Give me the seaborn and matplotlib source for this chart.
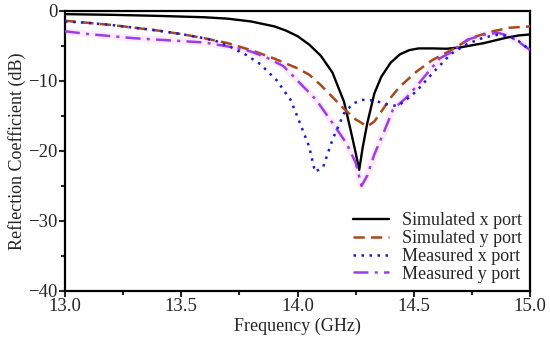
import matplotlib
matplotlib.use("Agg")
import matplotlib.pyplot as plt
import seaborn as sns
from matplotlib.ticker import MultipleLocator

# Simulated x port
sim_x_f = [13.0, 13.2, 13.4, 13.6, 13.7, 13.8, 13.9, 13.95, 14.0, 14.05, 14.1, 14.15,
           14.2, 14.23, 14.25, 14.265, 14.28, 14.3, 14.33, 14.36, 14.4, 14.44, 14.48,
           14.52, 14.58, 14.64, 14.7, 14.75, 14.8, 14.85, 14.9, 14.95, 15.0]
sim_x_db = [-0.45, -0.55, -0.7, -0.9, -1.1, -1.5, -2.2, -2.8, -3.6, -4.8, -6.4, -8.8,
            -13.0, -17.3, -20.3, -22.7, -19.5, -16.0, -11.8, -9.4, -7.4, -6.2, -5.6,
            -5.35, -5.35, -5.4, -5.2, -4.9, -4.6, -4.2, -3.8, -3.5, -3.35]

# Simulated y port
sim_y_f = [13.0, 13.1, 13.2, 13.3, 13.4, 13.5, 13.6, 13.7, 13.8, 13.9, 14.0, 14.05,
           14.1, 14.15, 14.2, 14.25, 14.3, 14.33, 14.37, 14.4, 14.44, 14.51, 14.58,
           14.66, 14.75, 14.84, 14.91, 15.0]
sim_y_db = [-1.4, -1.7, -2.0, -2.4, -2.8, -3.3, -3.9, -4.6, -5.6, -6.8, -8.2, -9.1,
            -10.6, -12.3, -14.0, -15.5, -16.5, -15.8, -13.9, -12.4, -10.8, -8.7, -7.0,
            -5.6, -3.8, -2.9, -2.4, -2.2]

# Measured x port
meas_x_f = [13.0, 13.1, 13.2, 13.3, 13.4, 13.5, 13.6, 13.65, 13.71, 13.78, 13.84,
            13.91, 13.97, 14.01, 14.05, 14.075, 14.11, 14.15, 14.2, 14.24, 14.28,
            14.33, 14.38, 14.43, 14.47, 14.51, 14.58, 14.66, 14.73, 14.8, 14.86,
            14.91, 14.95, 15.0]
meas_x_db = [-1.5, -1.7, -2.0, -2.4, -2.8, -3.3, -3.9, -4.3, -5.1, -6.3, -7.6,
             -9.9, -12.7, -16.0, -19.4, -23.0, -22.3, -18.4, -14.6, -13.2, -12.7,
             -12.8, -13.3, -13.6, -12.6, -11.5, -8.9, -6.1, -4.7, -3.8, -3.4,
             -3.6, -4.3, -5.6]

# Measured y port
meas_y_f = [13.0, 13.1, 13.2, 13.3, 13.4, 13.5, 13.6, 13.67, 13.74, 13.8, 13.87,
            13.94, 14.01, 14.08, 14.15, 14.21, 14.25, 14.275, 14.3, 14.33, 14.37,
            14.41, 14.47, 14.51, 14.58, 14.61, 14.66, 14.73, 14.8, 14.86, 14.91,
            14.95, 15.0]
meas_y_db = [-2.9, -3.3, -3.6, -3.9, -4.1, -4.3, -4.5, -4.9, -5.3, -5.8, -6.7,
             -7.9, -10.3, -12.7, -16.0, -18.9, -21.7, -25.0, -23.5, -20.5, -17.4,
             -14.1, -12.3, -10.8, -8.0, -6.8, -5.9, -4.1, -3.4, -3.1, -3.6,
             -4.4, -5.6]

sns.set_style("ticks")
plt.rcParams["font.family"] = ["Liberation Serif", "DejaVu Serif"]
plt.rcParams["font.size"] = 12

fig = plt.figure(figsize=(5.5, 3.43), dpi=100)
ax = fig.add_axes([0.118, 0.152, 0.846, 0.816])

# faint halo under the measured y trace, as in the reference
sns.lineplot(x=meas_y_f, y=meas_y_db, ax=ax, color="#fcecf9", lw=5, zorder=1)
sns.lineplot(x=sim_x_f, y=sim_x_db, ax=ax, color="black", lw=1.7,
             label="Simulated x port", zorder=3)
sns.lineplot(x=sim_y_f, y=sim_y_db, ax=ax, color="#a8481c", lw=1.8,
             linestyle=(0, (4.5, 2.5)), label="Simulated y port", zorder=3)
sns.lineplot(x=meas_x_f, y=meas_x_db, ax=ax, color="#1a1ad6", lw=1.8,
             linestyle=(0, (1, 2.2)), label="Measured x port", zorder=4)
sns.lineplot(x=meas_y_f, y=meas_y_db, ax=ax, color="#9a3fe8", lw=1.8,
             linestyle=(0, (6, 2.5, 1.2, 2.5)), label="Measured y port", zorder=3)

ax.set_xlim(13.0, 15.0)
ax.set_ylim(-40, 0)
ax.xaxis.set_major_locator(MultipleLocator(0.5))
ax.xaxis.set_minor_locator(MultipleLocator(0.25))
ax.yaxis.set_major_locator(MultipleLocator(10))
ax.yaxis.set_minor_locator(MultipleLocator(5))
ax.set_xticks([13.0, 13.5, 14.0, 14.5, 15.0])
ax.set_xticklabels(["13.0", "13.5", "14.0", "14.5", "15.0"])
ax.tick_params(which="major", direction="out", length=4, width=1.5, labelsize=13.5, pad=1)
ax.tick_params(which="minor", direction="out", length=3, width=1.5)
for s in ax.spines.values():
    s.set_linewidth(1.6)
    s.set_color("black")

ax.set_xlabel("Frequency (GHz)", fontsize=13, labelpad=2)
ax.set_ylabel("Reflection Coefficient (dB)", fontsize=13, labelpad=2)

ax.legend(loc="lower right", frameon=False, fontsize=13, handlelength=2.0,
          handletextpad=0.7, labelspacing=0.05, borderaxespad=0.05)

fig.savefig("out.png", dpi=100)
